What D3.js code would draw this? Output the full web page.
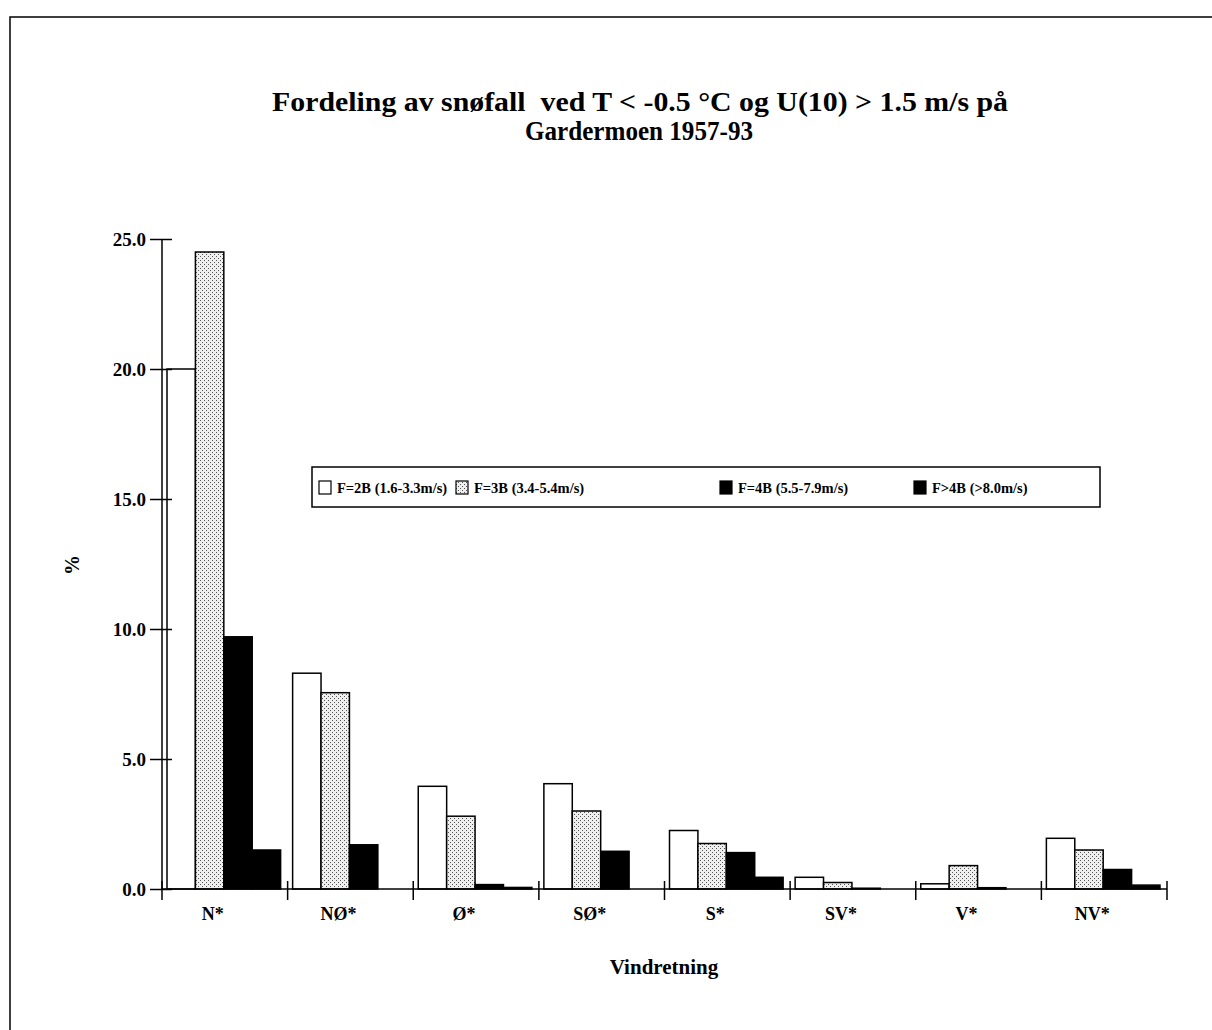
<!DOCTYPE html>
<html>
<head>
<meta charset="utf-8">
<script src="https://cdn.jsdelivr.net/npm/d3@7"></script>
<style>
body { margin: 0; background: #fff; }
text { font-family: "Liberation Serif", "Times New Roman", serif; font-weight: bold; fill: #000; }
</style>
</head>
<body>
<svg id="myGraph" width="1212" height="1030"></svg>
<script>
// data
var categories = ["N*", "NØ*", "Ø*", "SØ*", "S*", "SV*", "V*", "NV*"];
var seriesNames = ["F=2B (1.6-3.3m/s)", "F=3B (3.4-5.4m/s)", "F=4B (5.5-7.9m/s)", "F>4B (>8.0m/s)"];
var f2b = [20.0, 8.3, 3.95, 4.05, 2.25, 0.45, 0.2, 1.95];
var f3b = [24.5, 7.55, 2.8, 3.0, 1.75, 0.25, 0.9, 1.5];
var f4b = [9.7, 1.7, 0.17, 1.45, 1.4, 0.03, 0.05, 0.75];
var f5b = [1.5, 0.0, 0.06, 0.0, 0.45, 0.0, 0.0, 0.15];
var yTicks = [0, 5, 10, 15, 20, 25];

var series = [f2b, f3b, f4b, f5b];
var fills = ["#fff", "url(#dots)", "#000", "#000"];

var svg = d3.select("#myGraph");

// stipple pattern for F=3B
var pat = svg.append("defs").append("pattern")
    .attr("id", "dots").attr("patternUnits", "userSpaceOnUse")
    .attr("width", 4).attr("height", 4);
pat.append("rect").attr("width", 4).attr("height", 4).attr("fill", "#efefef");
pat.append("rect").attr("x", 0).attr("y", 0).attr("width", 1).attr("height", 1).attr("fill", "#555");
pat.append("rect").attr("x", 2).attr("y", 2).attr("width", 1).attr("height", 1).attr("fill", "#555");

// outer frame
svg.append("rect")
    .attr("x", 10).attr("y", 17).attr("width", 1240).attr("height", 1040)
    .attr("fill", "none").attr("stroke", "#000").attr("stroke-width", 1.5);

// title
svg.append("text").attr("x", 640).attr("y", 111).attr("text-anchor", "middle")
    .attr("xml:space", "preserve")
    .attr("textLength", 736).attr("lengthAdjust", "spacingAndGlyphs")
    .style("font-size", "27px")
    .text("Fordeling av snøfall  ved T < -0.5 °C og U(10) > 1.5 m/s på");
svg.append("text").attr("x", 639).attr("y", 140).attr("text-anchor", "middle")
    .attr("textLength", 228).attr("lengthAdjust", "spacingAndGlyphs")
    .style("font-size", "27px").text("Gardermoen 1957-93");

var x = d3.scaleBand().domain(categories).range([162, 1167]).padding(0);
var xs = d3.scaleBand().domain(d3.range(4)).range([5, x.bandwidth() - 7]).padding(0);
var y = d3.scaleLinear().domain([0, 25]).range([889, 239]);

// bars
series.forEach(function(vals, s) {
    svg.append("g").selectAll("rect")
        .data(vals)
        .enter()
        .append("rect")
        .attr("x", function(d, i) { return x(categories[i]) + xs(s); })
        .attr("y", function(d) { return y(d); })
        .attr("width", xs.bandwidth())
        .attr("height", function(d) { return y(0) - y(d); })
        .attr("fill", fills[s])
        .attr("stroke", "#000")
        .attr("stroke-width", 1.5);
});

// y axis
var yAxis = svg.append("g").attr("transform", "translate(162,0)")
    .call(d3.axisLeft(y).tickValues(yTicks).tickFormat(d3.format(".1f")).tickSize(12));
yAxis.select(".domain").attr("d", "M0," + y(25) + "V" + y(0)).attr("stroke-width", 1.5);
yAxis.selectAll(".tick line").attr("x1", -12).attr("x2", 10).attr("stroke-width", 1.5);
yAxis.selectAll(".tick text").attr("x", -16).style("font-size", "19px")
    .style("font-family", "'Liberation Serif', serif").style("font-weight", "bold");

// x axis with ticks at category boundaries
var xAxis = svg.append("g").attr("transform", "translate(0," + y(0) + ")");
xAxis.append("line").attr("x1", 162).attr("x2", 1167).attr("stroke", "#000").attr("stroke-width", 1.5);
xAxis.selectAll(".xt")
    .data(categories.concat([null]))
    .enter()
    .append("line")
    .attr("class", "xt")
    .attr("x1", function(d, i) { return 162 + i * x.step(); })
    .attr("x2", function(d, i) { return 162 + i * x.step(); })
    .attr("y1", -8).attr("y2", 11)
    .attr("stroke", "#000").attr("stroke-width", 1.5);
xAxis.selectAll(".xl")
    .data(categories)
    .enter()
    .append("text")
    .attr("class", "xl")
    .attr("x", function(d) { return x(d) + x.bandwidth() / 2 - 12; })
    .attr("y", 31)
    .attr("text-anchor", "middle")
    .style("font-size", "18px")
    .text(function(d) { return d; });

// axis titles
svg.append("text").attr("x", 664).attr("y", 974).attr("text-anchor", "middle")
    .style("font-size", "21px").text("Vindretning");
svg.append("text").attr("transform", "translate(79,565) rotate(-90)").attr("text-anchor", "middle")
    .style("font-size", "20px").text("%");

// legend
var legend = svg.append("g");
legend.append("rect").attr("x", 312).attr("y", 467).attr("width", 788).attr("height", 40)
    .attr("fill", "#fff").attr("stroke", "#000").attr("stroke-width", 1.5);
var legX = [319, 456, 720, 914];
seriesNames.forEach(function(name, s) {
    legend.append("rect").attr("x", legX[s]).attr("y", 481).attr("width", 12).attr("height", 13)
        .attr("fill", fills[s]).attr("stroke", "#000").attr("stroke-width", 1.2);
    legend.append("text").attr("x", legX[s] + 18).attr("y", 493)
        .style("font-size", "14.5px").text(name);
});
</script>
</body>
</html>
